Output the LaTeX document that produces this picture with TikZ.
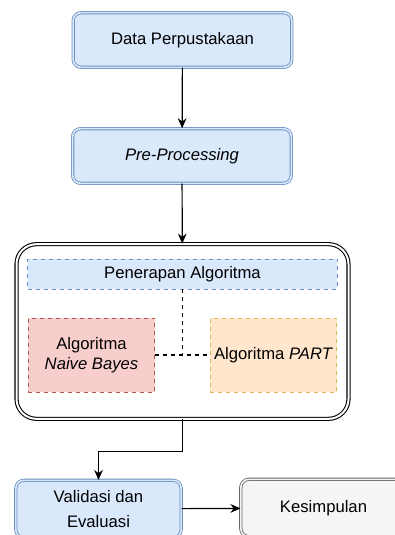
\documentclass[tikz,border=0pt]{standalone}
\usepackage{fontspec}
\setmainfont{Liberation Sans}
\usetikzlibrary{arrows.meta}
\definecolor{bluefill}{HTML}{DAE8FC}
\definecolor{blueline}{HTML}{6C8EBF}
\definecolor{redfill}{HTML}{F8CECC}
\definecolor{redline}{HTML}{B85450}
\definecolor{orangefill}{HTML}{FFE6CC}
\definecolor{orangeline}{HTML}{D6B656}
\definecolor{greyfill}{HTML}{F5F5F5}
\definecolor{greyline}{HTML}{666666}
\begin{document}
\begin{tikzpicture}[x=0.75pt,y=-0.75pt,
    font=\fontsize{12.5}{15}\selectfont,
    stepbox/.style={draw=blueline,fill=bluefill,double=bluefill,double distance=1.2pt,
      line width=0.6pt,rounded corners=6pt,minimum width=164pt,minimum height=41pt,align=center},
    endbox/.style={stepbox,draw=greyline,fill=greyfill,double=greyfill,
      minimum width=124pt,minimum height=43pt},
    dashbox/.style={draw,dashed,line width=0.6pt,align=center,inner sep=1pt},
    flow/.style={line width=0.9pt,-{Stealth[length=7.5pt,width=6.5pt]}}]
  \useasboundingbox (0,0) rectangle (395,535);
  \clip (0,0) rectangle (395,535);
  \draw
    (182.5,40) node[stepbox] (data){Data Perpustakaan}
    (182,156) node[stepbox] (pre){\textit{Pre-Processing}}
    (182.5,331.5) node[draw,double,double distance=1.5pt,line width=0.8pt,rounded corners=15pt,
      minimum width=249pt,minimum height=131pt] (algo){}
    (182.5,274) node[dashbox,draw=blueline,fill=bluefill,minimum width=232pt,minimum height=22.5pt] (terap){Penerapan Algoritma}
    (91.5,355) node[dashbox,draw=redline,fill=redfill,minimum width=95pt,minimum height=55.5pt] (nb){Algoritma\\\textit{Naive Bayes}}
    (273.5,355) node[dashbox,draw=orangeline,fill=orangefill,minimum width=95pt,minimum height=55.5pt] (part){Algoritma \textit{PART}}
    (98.5,509) node[stepbox,minimum width=124pt,minimum height=43pt] (valid){Validasi dan\\[4pt]Evaluasi}
    (323.5,508) node[endbox] (simpul){Kesimpulan};
  \coordinate (temu) at (terap.south |- nb.east);
  \begin{scope}[flow]
    \draw (data) to (pre);
    \draw (pre) to (algo);
    \draw (algo.south) -- ++(0,32) -| (valid.north);
    \draw (valid) to (simpul);
  \end{scope}
  \begin{scope}[dashed,line width=0.8pt]
    \draw (terap) to (temu);
    \draw (nb) to (part);
  \end{scope}
\end{tikzpicture}
\end{document}
